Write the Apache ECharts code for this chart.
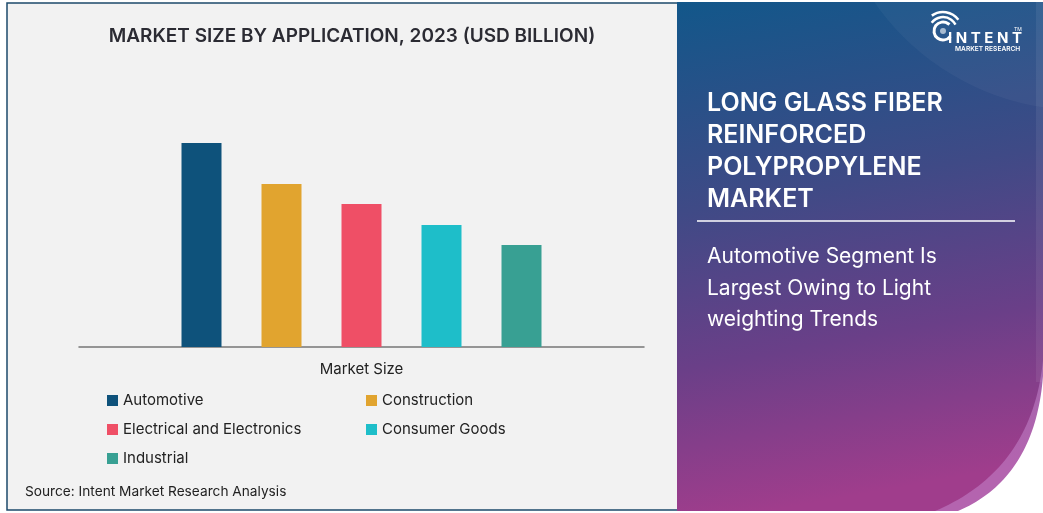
<!DOCTYPE html>
<html>
<head>
<meta charset="utf-8">
<script src="https://cdn.jsdelivr.net/npm/echarts@6/dist/echarts.min.js"></script>
<style>
html,body{margin:0;padding:0;background:#fff;}
#c{width:1043px;height:513px;}
</style>
</head>
<body>
<div id="c"></div>
<script>
const categories = ['Market Size'];
const seriesNames = ['Automotive', 'Construction', 'Electrical and Electronics', 'Consumer Goods', 'Industrial'];
const seriesValues = [2.04, 1.63, 1.43, 1.22, 1.02];
const seriesColors = ['#0e527b', '#e1a42f', '#ef4f66', '#1ebec9', '#38a093'];
const legendCol1 = ['Automotive', 'Electrical and Electronics', 'Industrial'];
const legendCol2 = ['Construction', 'Consumer Goods'];

const chart = echarts.init(document.getElementById('c'), null, {renderer: 'canvas'});
const FONT = 'Inter, "Open Sans", sans-serif';

function quadPoints(x0, y0, cx, cy, x1, y1, n) {
  const pts = [];
  for (let i = 0; i <= n; i++) {
    const t = i / n;
    const a = (1 - t) * (1 - t), b = 2 * (1 - t) * t, c = t * t;
    pts.push([a * x0 + b * cx + c * x1, a * y0 + b * cy + c * y1]);
  }
  return pts;
}
const band = quadPoints(1043, 360, 1032, 470, 935, 511, 40).concat([[1043, 511]]);
const cut = quadPoints(1043, 376, 1035, 478, 958, 511, 40).concat([[1043, 511]]);

const series = seriesNames.map((n, i) => ({
  name: n,
  type: 'bar',
  data: [seriesValues[i]],
  barWidth: 40,
  barGap: '100%',
  itemStyle: {color: seriesColors[i]},
  z: 5
}));

const legendBase = {
  orient: 'vertical',
  top: 393,
  padding: 0,
  itemWidth: 11,
  itemHeight: 11,
  itemGap: 14,
  icon: 'rect',
  selectedMode: false,
  textStyle: {fontFamily: FONT, fontSize: 15, color: '#222'}
};

chart.setOption({
  backgroundColor: '#ffffff',
  animation: false,
  title: {
    text: 'MARKET SIZE BY APPLICATION, 2023 (USD BILLION)',
    left: 347, top: 22, textAlign: 'center',
    textStyle: {fontFamily: FONT, fontSize: 19, fontWeight: 600, color: '#2b2b33'}
  },
  legend: [
    Object.assign({}, legendBase, {left: 107, data: legendCol1}),
    Object.assign({}, legendBase, {left: 366, data: legendCol2})
  ],
  grid: {left: 79, right: 399, top: 97, bottom: 166},
  xAxis: {
    type: 'category',
    data: categories,
    axisLine: {lineStyle: {color: '#777', width: 1.5}},
    axisTick: {show: false},
    axisLabel: {fontFamily: FONT, fontSize: 15, color: '#222', margin: 15}
  },
  yAxis: {type: 'value', min: 0, max: 2.5, show: false, splitLine: {show: false}},
  series: series,
  graphic: [
    {type: 'rect', shape: {x: 7, y: 3, width: 672, height: 507}, style: {fill: '#f2f2f2', stroke: '#1d4a6b', lineWidth: 1.5}, z: -10},
    {type: 'rect', shape: {x: 677, y: 2, width: 366, height: 509},
     style: {fill: new echarts.graphic.LinearGradient(0, 0, 0.25, 1, [
       {offset: 0, color: '#12578a'},
       {offset: 0.4, color: '#3f4a86'},
       {offset: 0.7, color: '#6a3f88'},
       {offset: 1, color: '#a03d8c'}
     ])}, z: -9},
    {type: 'circle', shape: {cx: 1080, cy: -140, r: 250}, style: {fill: 'rgba(255,255,255,0.04)'}, z: -8},
    {type: 'rect', shape: {x: 1036, y: 2, width: 7, height: 380}, style: {fill: 'rgba(255,255,255,0.07)'}, z: -8},
    {type: 'polygon', shape: {points: band}, style: {fill: 'rgba(200,140,210,0.5)'}, z: -7},
    {type: 'polygon', shape: {points: cut}, style: {fill: '#ffffff'}, z: -6},
    {type: 'text', left: 25, top: 485, style: {text: 'Source: Intent Market Research Analysis', font: '13.7px ' + FONT, fill: '#222'}},
    {type: 'text', left: 707, top: 87, style: {text: 'LONG GLASS FIBER\nREINFORCED\nPOLYPROPYLENE\nMARKET', font: '600 25px ' + FONT, fill: '#ffffff', lineHeight: 32}},
    {type: 'line', shape: {x1: 697, y1: 221, x2: 1015, y2: 221}, style: {stroke: '#ffffff', lineWidth: 1.5}},
    {type: 'text', left: 707, top: 241, style: {text: 'Automotive Segment Is\nLargest Owing to Light\nweighting Trends', font: '21px ' + FONT, fill: '#ffffff', lineHeight: 31.5}},
    {type: 'arc', shape: {cx: 943, cy: 31, r: 9, startAngle: Math.PI * 0.2, endAngle: Math.PI * 1.75}, style: {stroke: '#fff', lineWidth: 3, fill: null}},
    {type: 'arc', shape: {cx: 943, cy: 31, r: 14, startAngle: Math.PI * 1.2, endAngle: Math.PI * 1.85}, style: {stroke: '#fff', lineWidth: 2.5, fill: null}},
    {type: 'arc', shape: {cx: 943, cy: 31, r: 19, startAngle: Math.PI * 1.3, endAngle: Math.PI * 1.8}, style: {stroke: '#fff', lineWidth: 2.5, fill: null}},
    {type: 'circle', shape: {cx: 943, cy: 31, r: 3}, style: {fill: 'rgba(255,255,255,0.6)'}},
    {type: 'text', left: 948, top: 31, style: {text: 'I N T E N T', font: 'bold 15px ' + FONT, fill: '#ffffff'}},
    {type: 'text', left: 1014, top: 27, style: {text: 'TM', font: '5px ' + FONT, fill: '#ffffff'}},
    {type: 'text', left: 955, top: 46, style: {text: 'MARKET RESEARCH', font: '600 6.6px ' + FONT, fill: '#ffffff'}}
  ]
});
</script>
</body>
</html>
